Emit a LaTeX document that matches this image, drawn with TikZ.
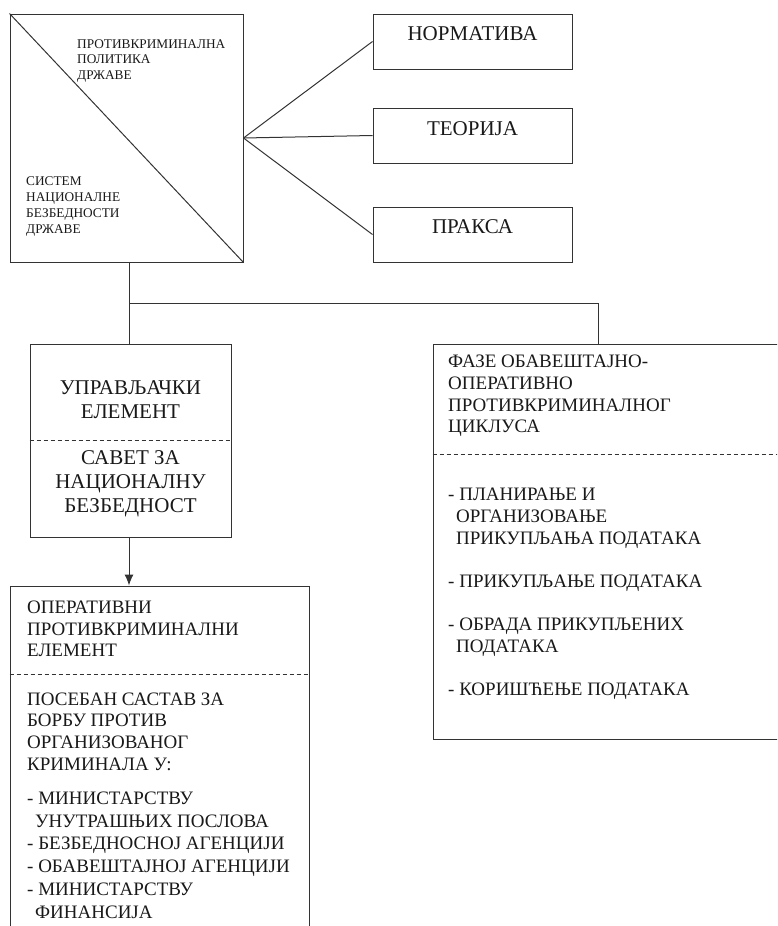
\documentclass[tikz,border=0pt]{standalone}
\usepackage{fontspec}
\setmainfont{Liberation Serif}
\usetikzlibrary{arrows.meta}
\newcommand\indnt{\hspace*{8pt}}

\begin{document}
\begin{tikzpicture}[x=1pt,y=-1pt,
  box/.style={draw=black!80, line width=1pt, inner sep=0pt},
  txt/.style={inner sep=0pt, text=black!90},
  bigtxt/.style={txt, font=\fontsize{21}{24}\selectfont},
  midtxt/.style={txt, font=\fontsize{19}{21.7}\selectfont},
  smalltxt/.style={txt, font=\fontsize{13.3}{15.7}\selectfont},
  sepline/.style={draw=black!80, line width=0.8pt, dash pattern=on 4pt off 3pt},
  link/.style={draw=black!80, line width=1pt}]
\path[use as bounding box] (0,0) rectangle (777,926);
\clip (0,0) rectangle (777,926);

\node[box, minimum width=233, minimum height=248] (drzava) at (126.5,138) {};
\draw[link] (drzava.north west) -- (drzava.south east);
\node[smalltxt, anchor=west, align=left] (politika) at (77,61) {ПРОТИВКРИМИНАЛНА\\ПОЛИТИКА\\ДРЖАВЕ};
\node[smalltxt, anchor=west, align=left] (sistem) at (26,206.5) {СИСТЕМ\\НАЦИОНАЛНЕ\\БЕЗБЕДНОСТИ\\ДРЖАВЕ};

\node[box, minimum width=199, minimum height=55] (norm) at (472.5,41.5) {};
\node[bigtxt] (normtxt) at (472.5,34) {НОРМАТИВА};
\node[box, minimum width=199, minimum height=55] (teorija) at (472.5,135.5) {};
\node[bigtxt] (teorijatxt) at (472.5,128.5) {ТЕОРИЈА};
\node[box, minimum width=199, minimum height=55] (praksa) at (472.5,234.5) {};
\node[bigtxt] (praksatxt) at (472.5,227) {ПРАКСА};

\draw[link] (drzava.east) -- (norm.west);
\draw[link] (drzava.east) -- (teorija.west);
\draw[link] (drzava.east) -- (praksa.west);

\node[box, minimum width=201, minimum height=193] (upr) at (130.5,440.5) {};
\draw[sepline] (upr.west) -- (upr.east);
\node[bigtxt, align=center] (uprtxt) at (130.5,399.5) {УПРАВЉАЧКИ\\ЕЛЕМЕНТ};
\node[bigtxt, align=center] (savet) at (130.5,484) {САВЕТ ЗА\\НАЦИОНАЛНУ\\БЕЗБЕДНОСТ};

\node[box, minimum width=367, minimum height=395] (faze) at (616.5,541.5) {};
\draw[sepline] ([yshift=-111pt]faze.north west) -- ([yshift=-111pt]faze.north east);
\node[midtxt, anchor=west, align=left] (fazetxt) at (448,396) {ФАЗЕ ОБАВЕШТАЈНО-\\ОПЕРАТИВНО\\ПРОТИВКРИМИНАЛНОГ\\ЦИКЛУСА};
\node[midtxt, anchor=west, align=left] (fazelist) at (448,594) {- ПЛАНИРАЊЕ И\\\indnt ОРГАНИЗОВАЊЕ\\\indnt ПРИКУПЉАЊА ПОДАТАКА\\[21.7pt]- ПРИКУПЉАЊЕ ПОДАТАКА\\[21.7pt]- ОБРАДА ПРИКУПЉЕНИХ\\\indnt ПОДАТАКА\\[21.7pt]- КОРИШЋЕЊЕ ПОДАТАКА};

\node[box, minimum width=299, minimum height=374] (operativni) at (159.5,773) {};
\draw[sepline] ([yshift=-89pt]operativni.north west) -- ([yshift=-89pt]operativni.north east);
\node[midtxt, anchor=west, align=left] (optxt) at (27,629) {ОПЕРАТИВНИ\\ПРОТИВКРИМИНАЛНИ\\ЕЛЕМЕНТ};
\node[midtxt, anchor=west, align=left] (sastav) at (27,731.5) {ПОСЕБАН САСТАВ ЗА\\БОРБУ ПРОТИВ\\ОРГАНИЗОВАНОГ\\КРИМИНАЛА У:};
\node[txt, font=\fontsize{19}{22.8}\selectfont, anchor=west, align=left] (resori) at (27,855) {- МИНИСТАРСТВУ\\\indnt УНУТРАШЊИХ ПОСЛОВА\\- БЕЗБЕДНОСНОЈ АГЕНЦИЈИ\\- ОБАВЕШТАЈНОЈ АГЕНЦИЈИ\\- МИНИСТАРСТВУ\\\indnt ФИНАНСИЈА};

\coordinate (razdvoj) at (129,303);
\draw[link] (drzava.south -| razdvoj) -- (upr.north -| razdvoj);
\draw[link] (razdvoj) -| ([xshift=-18.5pt]faze.north);
\draw[link, -{Latex[length=11pt,width=9pt]}] (upr.south -| razdvoj) -- (operativni.north -| razdvoj);
\end{tikzpicture}
\end{document}
